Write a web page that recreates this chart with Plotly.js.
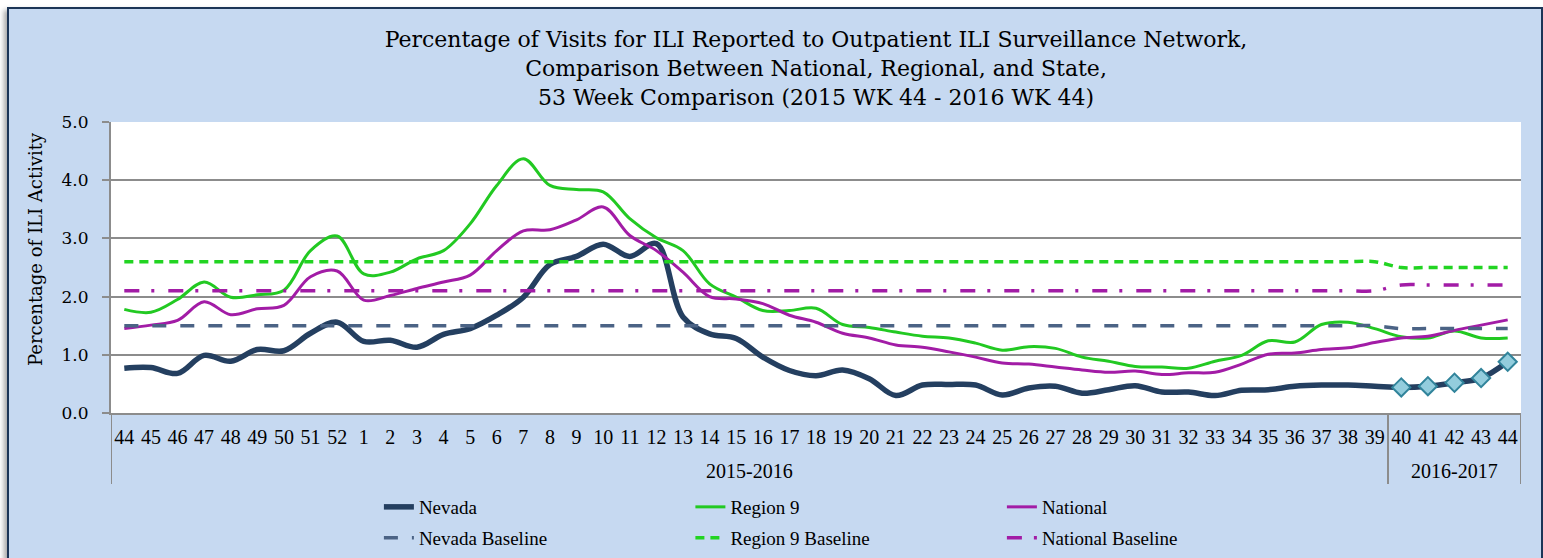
<!DOCTYPE html>
<html><head><meta charset="utf-8">
<script src="https://cdn.plot.ly/plotly-3.0.1.min.js"></script>
<style>
html,body{margin:0;padding:0;background:#fff;overflow:hidden;width:1543px;height:558px;}
#frame{position:absolute;left:7px;top:7px;width:1536px;height:620px;box-sizing:border-box;border:2px solid #1C3557;background:#C6D9F1;box-shadow:-3px 3px 5px rgba(0,0,0,0.35);}
#chart{position:absolute;left:0;top:0;width:1543px;height:558px;}
</style></head><body>
<div id="frame"></div><div id="chart"></div>
<script>
const weeks = ['44','45','46','47','48','49','50','51','52','1','2','3','4','5','6','7','8','9','10','11','12','13','14','15','16','17','18','19','20','21','22','23','24','25','26','27','28','29','30','31','32','33','34','35','36','37','38','39','40','41','42','43','44'];
const seasonNames = ['2015-2016','2016-2017'];
const seasonWeekCounts = [48, 5];
const seasons = [].concat(Array(seasonWeekCounts[0]).fill(seasonNames[0]), Array(seasonWeekCounts[1]).fill(seasonNames[1]));

const nevada = [0.77,0.78,0.68,0.99,0.89,1.09,1.07,1.37,1.56,1.23,1.25,1.13,1.35,1.45,1.68,1.99,2.55,2.69,2.90,2.69,2.91,1.65,1.36,1.28,0.96,0.73,0.64,0.74,0.59,0.30,0.48,0.49,0.48,0.31,0.43,0.46,0.34,0.40,0.47,0.36,0.36,0.30,0.39,0.40,0.46,0.48,0.48,0.46,0.44,0.46,0.52,0.60,0.88];
const region9 = [1.78,1.73,1.95,2.25,1.99,2.03,2.11,2.79,3.04,2.39,2.42,2.65,2.79,3.25,3.91,4.37,3.91,3.84,3.80,3.34,3.01,2.79,2.22,1.99,1.76,1.76,1.80,1.52,1.47,1.39,1.32,1.29,1.20,1.08,1.14,1.11,0.96,0.89,0.80,0.79,0.77,0.89,0.99,1.24,1.22,1.52,1.56,1.45,1.31,1.29,1.41,1.29,1.29];
const national = [1.45,1.51,1.59,1.91,1.69,1.79,1.85,2.34,2.44,1.94,2.02,2.14,2.25,2.37,2.79,3.13,3.15,3.32,3.54,3.05,2.79,2.42,2.00,1.96,1.88,1.68,1.56,1.37,1.29,1.17,1.13,1.05,0.96,0.86,0.84,0.79,0.74,0.70,0.72,0.66,0.69,0.70,0.84,1.01,1.03,1.09,1.12,1.21,1.29,1.32,1.42,1.51,1.60];
const nevadaBaseline = [1.5,1.5,1.5,1.5,1.5,1.5,1.5,1.5,1.5,1.5,1.5,1.5,1.5,1.5,1.5,1.5,1.5,1.5,1.5,1.5,1.5,1.5,1.5,1.5,1.5,1.5,1.5,1.5,1.5,1.5,1.5,1.5,1.5,1.5,1.5,1.5,1.5,1.5,1.5,1.5,1.5,1.5,1.5,1.5,1.5,1.5,1.5,1.5,1.45,1.45,1.45,1.45,1.45];
const region9Baseline = [2.6,2.6,2.6,2.6,2.6,2.6,2.6,2.6,2.6,2.6,2.6,2.6,2.6,2.6,2.6,2.6,2.6,2.6,2.6,2.6,2.6,2.6,2.6,2.6,2.6,2.6,2.6,2.6,2.6,2.6,2.6,2.6,2.6,2.6,2.6,2.6,2.6,2.6,2.6,2.6,2.6,2.6,2.6,2.6,2.6,2.6,2.6,2.6,2.5,2.5,2.5,2.5,2.5];
const nationalBaseline = [2.1,2.1,2.1,2.1,2.1,2.1,2.1,2.1,2.1,2.1,2.1,2.1,2.1,2.1,2.1,2.1,2.1,2.1,2.1,2.1,2.1,2.1,2.1,2.1,2.1,2.1,2.1,2.1,2.1,2.1,2.1,2.1,2.1,2.1,2.1,2.1,2.1,2.1,2.1,2.1,2.1,2.1,2.1,2.1,2.1,2.1,2.1,2.1,2.2,2.2,2.2,2.2,2.2];

// unique category keys (season + week), shown with the week number only
const xKeys = weeks.map((w, i) => seasons[i] + ' WK ' + w);
const markStart = seasonWeekCounts[0];
const xMarks = xKeys.slice(markStart);

const serif = 'Liberation Serif';
const gray = '#8C8C8C';

// season group labels and dividers from the season definitions
const annotations = [];
const shapes = [];
let start = 0;
const divY = (413 - 484) / 291;
shapes.push({type:'line', xref:'x', yref:'paper', x0:-0.5, x1:-0.5, y0:0, y1:divY, line:{color:gray, width:2}});
seasonNames.forEach((s, k) => {
  const n = seasonWeekCounts[k];
  annotations.push({xref:'x', yref:'paper', x:start + (n - 1) / 2, y:(413 - 471) / 291, yanchor:'middle', xanchor:'center',
    text:s, showarrow:false, font:{family:serif, size:20, color:'#000'}});
  start += n;
  shapes.push({type:'line', xref:'x', yref:'paper', x0:start - 0.5, x1:start - 0.5, y0:0, y1:divY, line:{color:gray, width:2}});
});
// y-axis title
annotations.push({xref:'paper', yref:'paper', x:(35 - 111) / 1410, y:(413 - 249) / 291, xanchor:'center', yanchor:'middle',
  textangle:-90, showarrow:false, text:'Percentage of ILI Activity', font:{family:'DejaVu Serif', size:18, color:'#000'}});

const traces = [
  {x:xKeys, y:nevada, name:'Nevada', mode:'lines', line:{color:'#243F60', width:5.5, shape:'spline', smoothing:1}},
  {x:xKeys, y:region9, name:'Region 9', mode:'lines', line:{color:'#22C922', width:3, shape:'spline', smoothing:1}},
  {x:xKeys, y:national, name:'National', mode:'lines', line:{color:'#A21CA6', width:3, shape:'spline', smoothing:1}},
  {x:xKeys, y:nevadaBaseline, name:'Nevada Baseline', legend:'legend2', mode:'lines', line:{color:'#4B6385', width:3.5, dash:'14px,14px', shape:'spline', smoothing:1}},
  {x:xKeys, y:region9Baseline, name:'Region 9 Baseline', legend:'legend2', mode:'lines', line:{color:'#22D422', width:3.5, dash:'9px,6px', shape:'spline', smoothing:1}},
  {x:xKeys, y:nationalBaseline, name:'National Baseline', legend:'legend2', mode:'lines', line:{color:'#A21CA6', width:3.5, dash:'15px,12px,3px,14px', shape:'spline', smoothing:1}},
  {x:xMarks, y:nevada.slice(markStart), name:'Nevada', showlegend:false, mode:'markers', hoverinfo:'skip', marker:{symbol:'diamond', size:14, color:'#93CDDD', line:{color:'#31849B', width:2}}}
];

const layout = {
  width:1543, height:558,
  paper_bgcolor:'rgba(0,0,0,0)', plot_bgcolor:'#ffffff',
  margin:{l:111, r:22, t:122, b:145, autoexpand:false},
  showlegend:true,
  title:{text:'Percentage of Visits for ILI Reported to Outpatient ILI Surveillance Network,<br>Comparison Between National, Regional, and State,<br>53 Week Comparison (2015 WK 44 - 2016 WK 44)',
    font:{family:'DejaVu Serif', size:22, color:'#000'}, x:0.5, xref:'paper', xanchor:'center', y:0.915, yref:'container', yanchor:'top'},
  xaxis:{type:'category', range:[-0.5, xKeys.length - 0.5], tickvals:xKeys, ticktext:weeks, showgrid:false, showline:true,
    linecolor:gray, linewidth:2, ticks:'', tickangle:0, ticklabelstandoff:5,
    tickfont:{family:serif, size:20, color:'#000'}, fixedrange:true},
  yaxis:{range:[0,5], tick0:0, dtick:1, tickformat:'.1f', showgrid:true, gridcolor:gray, gridwidth:2,
    showline:true, linecolor:gray, linewidth:2, ticks:'outside', ticklen:7, tickwidth:2, tickcolor:gray,
    ticklabelstandoff:10, zeroline:false, tickfont:{family:'DejaVu Serif', size:17, color:'#000'}},
  annotations:annotations,
  shapes:shapes,
  legend:{orientation:'h', x:0.19, xanchor:'left', yref:'container', y:1 - 507 / 558, yanchor:'middle', bgcolor:'rgba(0,0,0,0)',
    font:{family:serif, size:19, color:'#000'}, entrywidth:266.5, entrywidthmode:'pixels', traceorder:'normal'},
  legend2:{orientation:'h', x:0.19, xanchor:'left', yref:'container', y:1 - 538 / 558, yanchor:'middle', bgcolor:'rgba(0,0,0,0)',
    font:{family:serif, size:19, color:'#000'}, entrywidth:266.5, entrywidthmode:'pixels', traceorder:'normal'}
};
Plotly.newPlot('chart', traces, layout, {displayModeBar:false, staticPlot:true});
</script>
</body></html>
